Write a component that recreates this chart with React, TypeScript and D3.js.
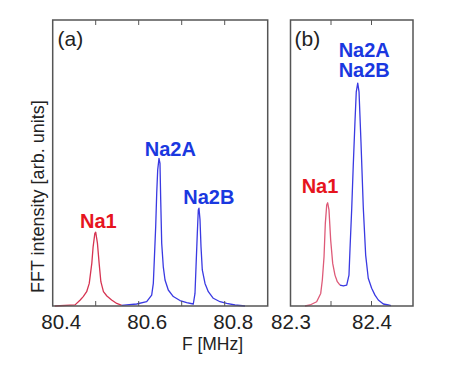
import React from "react";
import * as d3 from "d3";

// Panel (a): F [MHz], intensity [arb.]
const na1A: [number, number][] = [
  [80.405, 0], [80.452, 0.4], [80.464, 2.1], [80.471, 3.3], [80.479, 5.0], [80.485, 7.9],
  [80.491, 15], [80.494, 20.7], [80.498, 25.4], [80.5, 25.8], [80.504, 22], [80.508, 14.9],
  [80.512, 8.5], [80.518, 5], [80.526, 3.5], [80.537, 2.1], [80.549, 0.9], [80.5605, 0.25],
];
const na2A: [number, number][] = [
  [80.5605, 0.2], [80.5953, 0.7], [80.6186, 1.5], [80.6302, 3.8], [80.634, 7.9], [80.6363, 16.1],
  [80.6395, 27.7], [80.6419, 39.4], [80.6442, 47.6], [80.6472, 51.6], [80.6495, 49.9],
  [80.6512, 37.1], [80.6535, 21.9], [80.6572, 13.7], [80.6612, 9.1], [80.6688, 5.6],
  [80.6805, 3.3], [80.696, 1.9], [80.7116, 1.2],
  [80.727, 0.7], [80.7309, 4.4], [80.7333, 13.7], [80.7363, 25.4], [80.7386, 33.6],
  [80.7402, 34.2], [80.7426, 30.1], [80.7449, 20.7], [80.7479, 12.6], [80.7542, 7.9],
  [80.7619, 5.0], [80.7735, 2.7], [80.7891, 1.5], [80.8047, 0.9], [80.824, 0.35], [80.8472, 0],
];
// Panel (b)
const na1B: [number, number][] = [
  [82.3179, 0], [82.3241, 0.35], [82.3323, 1.5], [82.3373, 4.4], [82.3393, 9.1], [82.3414, 17.2],
  [82.3422, 23.1], [82.343, 28.9], [82.3447, 35.3], [82.3459, 36.1], [82.3475, 33.6],
  [82.3496, 23.1], [82.3521, 14.9], [82.3549, 10.8], [82.3578, 8.5], [82.3611, 7.3],
];
const na2B: [number, number][] = [
  [82.3611, 7.3], [82.3652, 7.0], [82.3694, 7.3], [82.3722, 10.8], [82.3735, 20.2],
  [82.3756, 34.2], [82.3775, 49.3], [82.3796, 64.4], [82.3812, 74.9], [82.383, 77.9],
  [82.3846, 74.9], [82.387, 57.4], [82.3899, 34.2], [82.3928, 17.8], [82.396, 9.7],
  [82.4002, 6.2], [82.4043, 3.8], [82.4084, 2.1], [82.4146, 0.7], [82.4207, 0.35], [82.4241, 0.1],
];

const ticksA = [80.5, 80.6, 80.7, 80.8];
const labelsA = [80.4, 80.6, 80.8];
const ticksB = [82.35, 82.4];
const labelsB = [82.3, 82.4];

const RED_LINE = "#d63452";
const RED_B = "#de5a78";
const BLUE_LINE = "#3a3ae2";
const RED_TXT = "#e6141e";
const BLUE_TXT = "#1a38e0";
const FRAME = "#555";

const top = 20, bottom = 306;
const y = d3.scaleLinear().domain([0, 100]).range([bottom, top]);

const xA = d3.scaleLinear().domain([80.4, 80.9]).range([52.7, 267.7]);
const xB = d3.scaleLinear().domain([82.3, 82.3 + 122.5 / 810]).range([290.5, 413]);

function Panel({ x, ticks, labels, labelDx, series }: any) {
  const [x0, x1] = x.range();
  return (
    <g>
      {series.map((s: any, i: number) => {
        const line = d3.line<[number, number]>().x((d) => x(d[0])).y((d) => y(d[1]));
        return <path key={i} d={line(s.data) || ""} fill="none" stroke={s.color} strokeWidth={1.3} strokeLinejoin="round" />;
      })}
      <rect x={x0} y={top} width={x1 - x0} height={bottom - top} fill="none" stroke={FRAME} strokeWidth={1.5} />
      {ticks.map((t: number) => (
        <g key={t}>
          <line x1={x(t)} x2={x(t)} y1={top} y2={top + 5} stroke={FRAME} strokeWidth={1} />
          <line x1={x(t)} x2={x(t)} y1={bottom} y2={bottom - 5} stroke={FRAME} strokeWidth={1} />
        </g>
      ))}
      {labels.map((t: number) => (
        <text key={t} x={x(t) + labelDx} y={328.5} textAnchor="middle" fontSize={20.5} fill="#222"
          fontFamily="Liberation Sans, Arial, sans-serif">{t.toFixed(1)}</text>
      ))}
    </g>
  );
}

export default function App() {
  const ff = "Liberation Sans, Arial, sans-serif";
  return (
    <svg width={457} height={375} style={{ position: "absolute", left: 0, top: 0, background: "#fff" }}>
      <rect width={457} height={375} fill="#fff" />
      <Panel x={xA} ticks={ticksA} labels={labelsA} labelDx={8.5}
        series={[{ data: na1A, color: RED_LINE }, { data: na2A, color: BLUE_LINE }]} />
      <Panel x={xB} ticks={ticksB} labels={labelsB} labelDx={0.5}
        series={[{ data: na1B, color: RED_B }, { data: na2B, color: BLUE_LINE }]} />

      <text x={57.5} y={46} fontSize={21} fill="#222" fontFamily={ff}>(a)</text>
      <text x={294.5} y={46} fontSize={21} fill="#222" fontFamily={ff}>(b)</text>

      <g fontFamily={ff} fontWeight="bold" fontSize={20} textAnchor="middle">
        <text x={98.3} y={228.3} fill={RED_TXT}>Na1</text>
        <text x={170.3} y={155.5} fill={BLUE_TXT}>Na2A</text>
        <text x={208.8} y={204} fill={BLUE_TXT}>Na2B</text>
        <text x={320} y={193.3} fill={RED_TXT}>Na1</text>
        <text x={364.2} y={57.3} fill={BLUE_TXT}>Na2A</text>
        <text x={364.2} y={77.3} fill={BLUE_TXT}>Na2B</text>
      </g>

      <text transform="translate(44,196.7) rotate(-90)" textAnchor="middle" fontSize={18} fill="#222" fontFamily={ff}>
        FFT intensity [arb. units]
      </text>
      <text x={212.5} y={349.5} textAnchor="middle" fontSize={17.5} fill="#222" fontFamily={ff}>F [MHz]</text>
    </svg>
  );
}
